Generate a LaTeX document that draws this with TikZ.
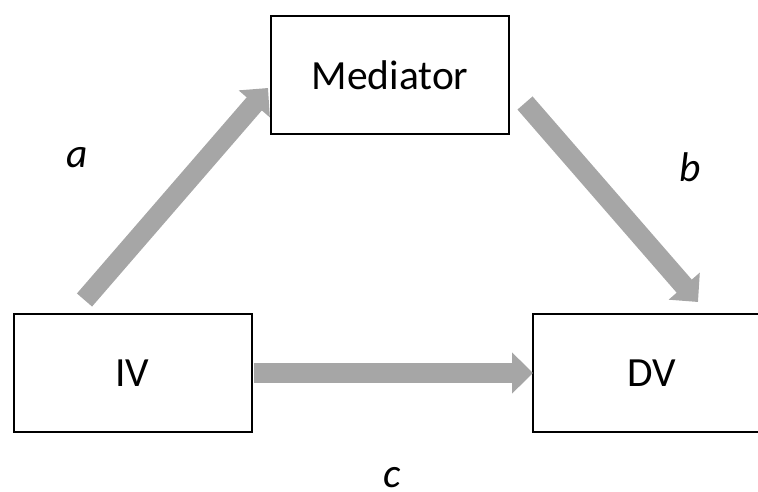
\documentclass[tikz,border=0pt]{standalone}
\usepackage{fontspec}
\setmainfont{Carlito}
\usetikzlibrary{arrows.meta, positioning}
\definecolor{arrowgray}{RGB}{166,166,166}

\begin{document}
\begin{tikzpicture}[x=1pt, y=1pt,
    varbox/.style={draw, line width=2pt, minimum width=238pt, minimum height=118pt, inner sep=0pt, font=\fontsize{41.5}{48}\selectfont},
    effect/.style={draw=arrowgray, line width=20pt, -{Triangle[length=21pt, width=40pt]}},
    coef/.style={inner sep=0pt, font=\fontsize{41.5}{48}\selectfont\itshape}
]

% Frame
\useasboundingbox (0,0) rectangle (758,491);

% Variables
\node[varbox] (med) at (390,416) {Mediator};
\node[varbox] (iv) at (132.5,118) {IV};
\node[varbox] (dv) at (651.5,118) {DV};

% Paths
\draw[effect] ([shift={(72,13)}]iv.north west) -- ([shift={(-2,-13)}]med.west);
\draw[effect] ([shift={(15,-28)}]med.east) -- ([shift={(46.5,11)}]dv.north);
\draw[effect] ([xshift=1.5pt]iv.east) -- ([xshift=1.5pt]dv.west);

% Coefficients
\node[coef] (a) at (77,333.5) {a};
\node[coef] (b) at (690,324) {b};
\node[coef] (c) at (392,13) {c};

\end{tikzpicture}
\end{document}
